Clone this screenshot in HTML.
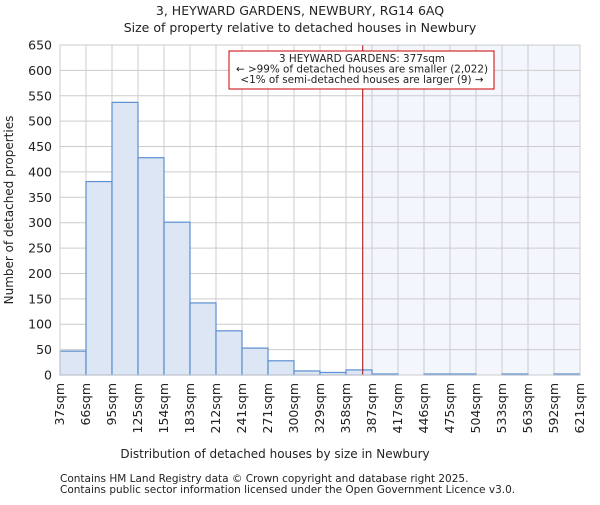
<!DOCTYPE html>
<html><head><meta charset="utf-8"><style>
body{margin:0;background:#fff;font-family:"Liberation Sans","DejaVu Sans",sans-serif}
svg text{font-family:"DejaVu Sans","Liberation Sans",sans-serif;fill:#222}
</style></head><body>
<svg id="chart" width="600" height="500">
<text x="300" y="15" text-anchor="middle" font-size="12.5">3, HEYWARD GARDENS, NEWBURY, RG14 6AQ</text>
<text x="300" y="32" text-anchor="middle" font-size="12.5">Size of property relative to detached houses in Newbury</text>
<g id="plot"></g>
<text x="275" y="458" text-anchor="middle" font-size="12">Distribution of detached houses by size in Newbury</text>
<text transform="translate(13,210) rotate(-90)" text-anchor="middle" font-size="12">Number of detached properties</text>
<text x="60" y="482" font-size="10.5" fill="#444">Contains HM Land Registry data © Crown copyright and database right 2025.</text>
<text x="60" y="493" font-size="10.5" fill="#444">Contains public sector information licensed under the Open Government Licence v3.0.</text>
</svg>
<script>
const binLabels=["37sqm","66sqm","95sqm","125sqm","154sqm","183sqm","212sqm","241sqm","271sqm","300sqm","329sqm","358sqm","387sqm","417sqm","446sqm","475sqm","504sqm","533sqm","563sqm","592sqm","621sqm"];
const counts=[47,381,537,428,301,142,87,53,28,8,5,10,2,0,2,2,0,2,0,2];
const yTicks=[0,50,100,150,200,250,300,350,400,450,500,550,600,650];
const markerValue=377;
const binStart=37, binWidth=29.2;
const NS="http://www.w3.org/2000/svg";
const L=60,R=580,T=45,B=375,yMax=650;
const x=v=>L+(v-binStart)/(binWidth*counts.length)*(R-L);
const y=v=>B-v/yMax*(B-T);
const g=document.getElementById('plot');
function mk(t,a){const e=document.createElementNS(NS,t);for(const k in a)e.setAttribute(k,a[k]);g.appendChild(e);return e;}
const mx=x(markerValue);
let e=mk('rect',{x:mx,y:T,width:R-mx,height:B-T,fill:'#f3f6fd'});


yTicks.forEach(t=>{
 const l=mk('line',{x1:L,x2:R,y1:y(t),y2:y(t),stroke:'#ccc'});
 
 
 const tx=mk('text',{x:L-8,y:y(t)+4.5,'text-anchor':'end','font-size':'12.5'});tx.textContent=t;
 
 
});
binLabels.forEach((lab,i)=>{
 const xv=x(binStart+i*binWidth);
 const l=mk('line',{x1:xv,x2:xv,y1:T,y2:B,stroke:'#ccc'});
 
 
 const tx=mk('text',{x:0,y:0,'text-anchor':'end','font-size':'12.5',transform:`translate(${xv+4},${B+8}) rotate(-90)`});tx.textContent=lab;
 
 
});
counts.forEach((c,i)=>{
 const x0=x(binStart+i*binWidth),x1=x(binStart+(i+1)*binWidth);
 if(c<=0)return;
 const r=mk('rect',{x:x0,y:y(c),width:x1-x0,height:B-y(c),fill:'#dde6f4',stroke:'#5b8fd0','stroke-width':1.2});
 
 
});
const ml=mk('line',{x1:mx,x2:mx,y1:T,y2:B,stroke:'#a00','stroke-width':1});


const box=mk('rect',{x:229,y:51,width:265,height:38,fill:'#fff',stroke:'#c00','stroke-width':1});


["3 HEYWARD GARDENS: 377sqm","← >99% of detached houses are smaller (2,022)","<1% of semi-detached houses are larger (9) →"].forEach((s,i)=>{
 const t=mk('text',{x:362,y:62+i*10.5,'text-anchor':'middle','font-size':'10.4'});t.textContent=s;
 
 
});
const ax=mk('rect',{x:L,y:T,width:R-L,height:B-T,fill:'none',stroke:'#ccc'});


</script>
</body></html>
